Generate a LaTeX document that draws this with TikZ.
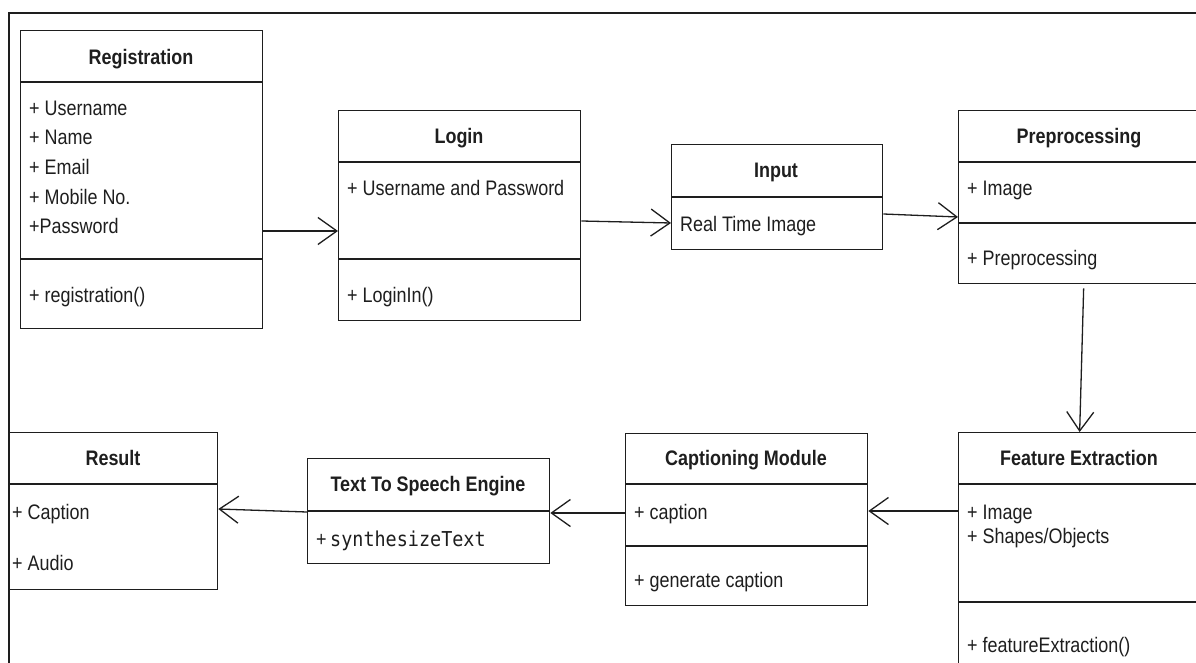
\documentclass[tikz,border=0pt]{standalone}
\usepackage{fontspec}
\setmainfont{Liberation Sans}[FakeStretch=0.855]
\newfontfamily\codefont{DejaVu Sans Mono}[FakeStretch=0.9]
\usetikzlibrary{arrows.meta}
\definecolor{ink}{HTML}{1E1E1E}

\begin{document}
\begin{tikzpicture}[x=1pt,y=-1pt,
  box/.style={draw=ink, line width=1.3pt, anchor=north west, inner sep=0pt, fill=white},
  ttl/.style={font=\fontsize{21}{24}\selectfont\bfseries, text=ink, inner sep=0pt,
              text height=15pt, text depth=0pt},
  att/.style={font=\fontsize{21}{24}\selectfont, text=ink, anchor=west, inner sep=0pt,
              text height=15pt, text depth=0pt},
  sep/.style={draw=ink, line width=1.3pt},
  arr/.style={draw=ink, line width=1.3pt,
              -{Straight Barb[length=19pt, width=27pt, line width=1.3pt]}},
]
\useasboundingbox (0,0) rectangle (1196,663);
\clip (0,0) rectangle (1196,663);

% outer frame
\draw[ink, line width=1.3pt] (9,13) rectangle (1260,720);

% ---------- class boxes ----------
\node[box, minimum width=242pt, minimum height=298pt] (reg)   at (20,30)  {};
\node[box, minimum width=242pt, minimum height=210pt] (login) at (338,110) {};
\node[box, minimum width=211pt, minimum height=105pt] (inp)   at (671,144) {};
\node[box, minimum width=242pt, minimum height=173pt] (pre)   at (958,110) {};
\node[box, minimum width=242pt, minimum height=260pt] (feat)  at (958,432) {};
\node[box, minimum width=242pt, minimum height=172pt] (cap)   at (625,433) {};
\node[box, minimum width=242pt, minimum height=105pt] (tts)   at (307,458) {};
\node[box, minimum width=208pt, minimum height=157pt] (res)   at (9,432)   {};

% compartment separators
\draw[sep] (reg.west |- 0,82)    -- (reg.east |- 0,82);
\draw[sep] (reg.west |- 0,259)   -- (reg.east |- 0,259);
\draw[sep] (login.west |- 0,162) -- (login.east |- 0,162);
\draw[sep] (login.west |- 0,259) -- (login.east |- 0,259);
\draw[sep] (inp.west |- 0,197)   -- (inp.east |- 0,197);
\draw[sep] (pre.west |- 0,162)   -- (pre.east |- 0,162);
\draw[sep] (pre.west |- 0,223)   -- (pre.east |- 0,223);
\draw[sep] (feat.west |- 0,484)  -- (feat.east |- 0,484);
\draw[sep] (feat.west |- 0,602)  -- (feat.east |- 0,602);
\draw[sep] (cap.west |- 0,484)   -- (cap.east |- 0,484);
\draw[sep] (cap.west |- 0,546)   -- (cap.east |- 0,546);
\draw[sep] (tts.west |- 0,511)   -- (tts.east |- 0,511);
\draw[sep] (res.west |- 0,484)   -- (res.east |- 0,484);

% ---------- titles ----------
\node[ttl] (tReg)   at (141,57)  {Registration};
\node[ttl] (tLogin) at (459,136) {Login};
\node[ttl] (tInp)   at (776,170) {Input};
\node[ttl] (tPre)   at (1079,136) {Preprocessing};
\node[ttl] (tFeat)  at (1079,458) {Feature Extraction};
\node[ttl] (tCap)   at (746,458) {Captioning Module};
\node[ttl] (tTts)   at (428,484) {Text To Speech Engine};
\node[ttl] (tRes)   at (113,458) {Result};

% ---------- members ----------
\node[att] (r1) at (29,108) {+ Username};
\node[att] (r2) at (29,137) {+ Name};
\node[att] (r3) at (29,167) {+ Email};
\node[att] (r4) at (29,197) {+ Mobile No.};
\node[att] (r5) at (29,226) {+Password};
\node[att] (r6) at (29,295) {+ registration()};

\node[att] (l1) at (347,188) {+ Username and Password};
\node[att] (l2) at (347,295) {+ LoginIn()};

\node[att] (i1) at (680,224) {Real Time Image};

\node[att] (p1) at (967,188) {+ Image};
\node[att] (p2) at (967,258) {+ Preprocessing};

\node[att] (f1) at (967,512) {+ Image};
\node[att] (f2) at (967,536) {+ Shapes/Objects};
\node[att] (f3) at (967,645) {+ featureExtraction()};

\node[att] (c1) at (634,512) {+ caption};
\node[att] (c2) at (634,580) {+ generate caption};

\node[att] (s1) at (316,539) {+\,{\codefont\fontsize{20.5}{24}\selectfont synthesizeText}};

\node[att] (e1) at (12,512) {+ Caption};
\node[att] (e2) at (12,563) {+ Audio};

% ---------- connectors ----------
\draw[arr] (reg.east |- 0,231)   -- (login.west |- 0,231);
\draw[arr] (login.east |- 0,221) -- (inp.west |- 0,223);
\draw[arr] (inp.east |- 0,214)   -- (pre.west |- 0,217);
\draw[arr] ([xshift=4pt,yshift=-4pt]pre.south) -- (feat.north);
\draw[arr] (feat.west |- 0,511)  -- (cap.east |- 0,511);
\draw[arr] (cap.west |- 0,513)   -- (tts.east |- 0,513);
\draw[arr] (tts.west |- 0,512)   -- (res.east |- 0,509);
\end{tikzpicture}
\end{document}
